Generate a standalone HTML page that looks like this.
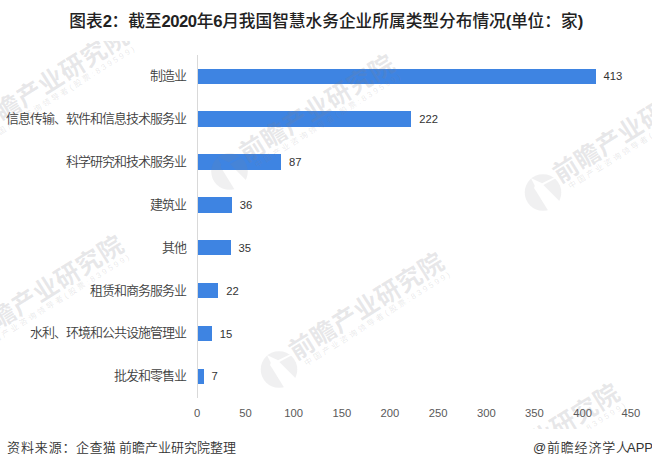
<!DOCTYPE html>
<html><head><meta charset="utf-8">
<style>
*{margin:0;padding:0;box-sizing:border-box}
html,body{width:652px;height:468px;background:#fff;overflow:hidden}
body{position:relative;font-family:"Liberation Sans","Noto Sans CJK SC",sans-serif}
#title{position:absolute;left:0;width:652px;top:9.5px;text-align:center;font-size:16.7px;line-height:24px;font-weight:500;color:#222;white-space:nowrap;font-family:"Liberation Sans","Noto Sans CJK SC",sans-serif}
#title .d{letter-spacing:-0.5px;font-weight:bold}
.cat{position:absolute;right:466px;font-size:13px;letter-spacing:-1px;line-height:16px;color:#404040;font-weight:350;text-align:right;white-space:nowrap;font-family:"Liberation Sans","Noto Sans CJK SC",sans-serif}
.bar{position:absolute;left:198px;background:#3e84e2}
.val{position:absolute;font-size:11.25px;line-height:14px;color:#333;white-space:nowrap;font-family:"Liberation Sans",sans-serif}
.tick{position:absolute;top:406px;width:40px;margin-left:-20px;text-align:center;font-size:11.25px;line-height:14px;color:#595959;font-family:"Liberation Sans",sans-serif}
#axis{position:absolute;left:197px;top:55px;width:1px;height:343px;background:#d9d9d9}
.foot{position:absolute;top:440px;font-size:13px;line-height:16px;color:#333;font-weight:350;white-space:nowrap;font-family:"Liberation Sans","Noto Sans CJK SC",sans-serif}
#wm{position:absolute;left:0;top:0;pointer-events:none}
</style></head><body>
<div id="title">图表<span class="d">2</span>：截至<span class="d">2020</span>年<span class="d">6</span>月我国智慧水务企业所属类型分布情况<span class="d">(</span>单位：家<span class="d">)</span></div>
<div class="cat" style="top:68.1px">制造业</div>
<div class="cat" style="top:111.0px">信息传输、软件和信息技术服务业</div>
<div class="cat" style="top:153.9px">科学研究和技术服务业</div>
<div class="cat" style="top:196.8px">建筑业</div>
<div class="cat" style="top:239.7px">其他</div>
<div class="cat" style="top:282.5px">租赁和商务服务业</div>
<div class="cat" style="top:325.4px">水利、环境和公共设施管理业</div>
<div class="cat" style="top:368.3px">批发和零售业</div>
<div class="bar" style="top:69px;height:15px;width:397.61px"></div>
<div class="bar" style="top:111px;height:16px;width:213.39px"></div>
<div class="bar" style="top:154px;height:16px;width:83.18px"></div>
<div class="bar" style="top:197px;height:16px;width:33.99px"></div>
<div class="bar" style="top:240px;height:15px;width:33.03px"></div>
<div class="bar" style="top:283px;height:15px;width:20.49px"></div>
<div class="bar" style="top:326px;height:15px;width:13.74px"></div>
<div class="bar" style="top:369px;height:15px;width:6.02px"></div>
<div class="val" style="left:603.4px;top:69.1px">413</div>
<div class="val" style="left:419.3px;top:112.0px">222</div>
<div class="val" style="left:289.0px;top:154.9px">87</div>
<div class="val" style="left:239.7px;top:197.8px">36</div>
<div class="val" style="left:238.5px;top:240.7px">35</div>
<div class="val" style="left:226.3px;top:283.6px">22</div>
<div class="val" style="left:219.8px;top:326.5px">15</div>
<div class="val" style="left:211.4px;top:369.4px">7</div>
<div class="tick" style="left:197.2px">0</div>
<div class="tick" style="left:245.4px">50</div>
<div class="tick" style="left:293.6px">100</div>
<div class="tick" style="left:341.8px">150</div>
<div class="tick" style="left:390.0px">200</div>
<div class="tick" style="left:438.1px">250</div>
<div class="tick" style="left:486.3px">300</div>
<div class="tick" style="left:534.5px">350</div>
<div class="tick" style="left:582.7px">400</div>
<div class="tick" style="left:630.9px">450</div>
<div id="axis"></div>
<div class="foot" style="left:7px;letter-spacing:0.9px">资料来源：</div>
<div class="foot" style="left:76px;letter-spacing:0.4px">企查猫</div>
<div class="foot" style="left:119px">前瞻产业研究院整理</div>
<div class="foot" style="left:533px;letter-spacing:0.8px">@前瞻经济学人</div>
<div class="foot" style="right:-1px">APP</div>
<svg id="wm" width="652" height="468" viewBox="0 0 652 468">
<defs>
<clipPath id="cp"><rect x="0" y="41" width="652" height="388"/></clipPath>
<clipPath id="cc"><circle cx="0" cy="0" r="18.3"/></clipPath>
</defs>
<g clip-path="url(#cp)">
<g transform="translate(-36.5 144) rotate(-32)">
<g transform="rotate(32)"><g clip-path="url(#cc)" fill="#80808f" fill-opacity="0.12">
<polygon points="-13.2,-16.8 -11.6,-13.5 -8.2,-6.7 -9,-4.5 -6.5,-0.7 4.6,17.3 5.9,20 -20,20 -20,-16.8"/>
<polygon points="-14.5,-15.4 -0.9,-9.2 12.2,-15.8 14,-17 14,-20 -14.5,-20"/>
<polygon points="0.4,-7.5 13.2,-14.6 16,-16.3 20,-16.3 20,11 18.3,10.5"/>
</g></g>
<text x="19.2" y="1.6" font-family="'Liberation Sans','Noto Sans CJK SC',sans-serif" font-weight="bold" font-size="25" letter-spacing="0.35" fill="#80808a" fill-opacity="0.19">前瞻产业研究院</text>
<text x="25.2" y="11.8" font-family="'Liberation Sans','Noto Sans CJK SC',sans-serif" font-size="8" letter-spacing="2.5" fill="#80808a" fill-opacity="0.18">中国产业咨询领导者(股票:839599)</text>
</g>
<g transform="translate(229.5 171.5) rotate(-32)">
<g transform="rotate(32)"><g clip-path="url(#cc)" fill="#80808f" fill-opacity="0.12">
<polygon points="-13.2,-16.8 -11.6,-13.5 -8.2,-6.7 -9,-4.5 -6.5,-0.7 4.6,17.3 5.9,20 -20,20 -20,-16.8"/>
<polygon points="-14.5,-15.4 -0.9,-9.2 12.2,-15.8 14,-17 14,-20 -14.5,-20"/>
<polygon points="0.4,-7.5 13.2,-14.6 16,-16.3 20,-16.3 20,11 18.3,10.5"/>
</g></g>
<text x="19.2" y="1.6" font-family="'Liberation Sans','Noto Sans CJK SC',sans-serif" font-weight="bold" font-size="25" letter-spacing="0.35" fill="#80808a" fill-opacity="0.19">前瞻产业研究院</text>
<text x="25.2" y="11.8" font-family="'Liberation Sans','Noto Sans CJK SC',sans-serif" font-size="8" letter-spacing="2.5" fill="#80808a" fill-opacity="0.18">中国产业咨询领导者(股票:839599)</text>
</g>
<g transform="translate(543 192.5) rotate(-32)">
<g transform="rotate(32)"><g clip-path="url(#cc)" fill="#80808f" fill-opacity="0.12">
<polygon points="-13.2,-16.8 -11.6,-13.5 -8.2,-6.7 -9,-4.5 -6.5,-0.7 4.6,17.3 5.9,20 -20,20 -20,-16.8"/>
<polygon points="-14.5,-15.4 -0.9,-9.2 12.2,-15.8 14,-17 14,-20 -14.5,-20"/>
<polygon points="0.4,-7.5 13.2,-14.6 16,-16.3 20,-16.3 20,11 18.3,10.5"/>
</g></g>
<text x="19.2" y="1.6" font-family="'Liberation Sans','Noto Sans CJK SC',sans-serif" font-weight="bold" font-size="25" letter-spacing="0.35" fill="#80808a" fill-opacity="0.19">前瞻产业研究院</text>
<text x="25.2" y="11.8" font-family="'Liberation Sans','Noto Sans CJK SC',sans-serif" font-size="8" letter-spacing="2.5" fill="#80808a" fill-opacity="0.18">中国产业咨询领导者(股票:839599)</text>
</g>
<g transform="translate(279 369.5) rotate(-32)">
<g transform="rotate(32)"><g clip-path="url(#cc)" fill="#80808f" fill-opacity="0.12">
<polygon points="-13.2,-16.8 -11.6,-13.5 -8.2,-6.7 -9,-4.5 -6.5,-0.7 4.6,17.3 5.9,20 -20,20 -20,-16.8"/>
<polygon points="-14.5,-15.4 -0.9,-9.2 12.2,-15.8 14,-17 14,-20 -14.5,-20"/>
<polygon points="0.4,-7.5 13.2,-14.6 16,-16.3 20,-16.3 20,11 18.3,10.5"/>
</g></g>
<text x="19.2" y="1.6" font-family="'Liberation Sans','Noto Sans CJK SC',sans-serif" font-weight="bold" font-size="25" letter-spacing="0.35" fill="#80808a" fill-opacity="0.19">前瞻产业研究院</text>
<text x="25.2" y="11.8" font-family="'Liberation Sans','Noto Sans CJK SC',sans-serif" font-size="8" letter-spacing="2.5" fill="#80808a" fill-opacity="0.18">中国产业咨询领导者(股票:839599)</text>
</g>
<g transform="translate(-41.7 352.2) rotate(-32)">
<g transform="rotate(32)"><g clip-path="url(#cc)" fill="#80808f" fill-opacity="0.12">
<polygon points="-13.2,-16.8 -11.6,-13.5 -8.2,-6.7 -9,-4.5 -6.5,-0.7 4.6,17.3 5.9,20 -20,20 -20,-16.8"/>
<polygon points="-14.5,-15.4 -0.9,-9.2 12.2,-15.8 14,-17 14,-20 -14.5,-20"/>
<polygon points="0.4,-7.5 13.2,-14.6 16,-16.3 20,-16.3 20,11 18.3,10.5"/>
</g></g>
<text x="19.2" y="1.6" font-family="'Liberation Sans','Noto Sans CJK SC',sans-serif" font-weight="bold" font-size="25" letter-spacing="0.35" fill="#80808a" fill-opacity="0.19">前瞻产业研究院</text>
<text x="25.2" y="11.8" font-family="'Liberation Sans','Noto Sans CJK SC',sans-serif" font-size="8" letter-spacing="2.5" fill="#80808a" fill-opacity="0.18">中国产业咨询领导者(股票:839599)</text>
</g>
<g transform="translate(454.5 500.5) rotate(-32)">
<g transform="rotate(32)"><g clip-path="url(#cc)" fill="#80808f" fill-opacity="0.12">
<polygon points="-13.2,-16.8 -11.6,-13.5 -8.2,-6.7 -9,-4.5 -6.5,-0.7 4.6,17.3 5.9,20 -20,20 -20,-16.8"/>
<polygon points="-14.5,-15.4 -0.9,-9.2 12.2,-15.8 14,-17 14,-20 -14.5,-20"/>
<polygon points="0.4,-7.5 13.2,-14.6 16,-16.3 20,-16.3 20,11 18.3,10.5"/>
</g></g>
<text x="19.2" y="1.6" font-family="'Liberation Sans','Noto Sans CJK SC',sans-serif" font-weight="bold" font-size="25" letter-spacing="0.35" fill="#80808a" fill-opacity="0.19">前瞻产业研究院</text>
<text x="25.2" y="11.8" font-family="'Liberation Sans','Noto Sans CJK SC',sans-serif" font-size="8" letter-spacing="2.5" fill="#80808a" fill-opacity="0.18">中国产业咨询领导者(股票:839599)</text>
</g>
</g>
</svg>
</body></html>
